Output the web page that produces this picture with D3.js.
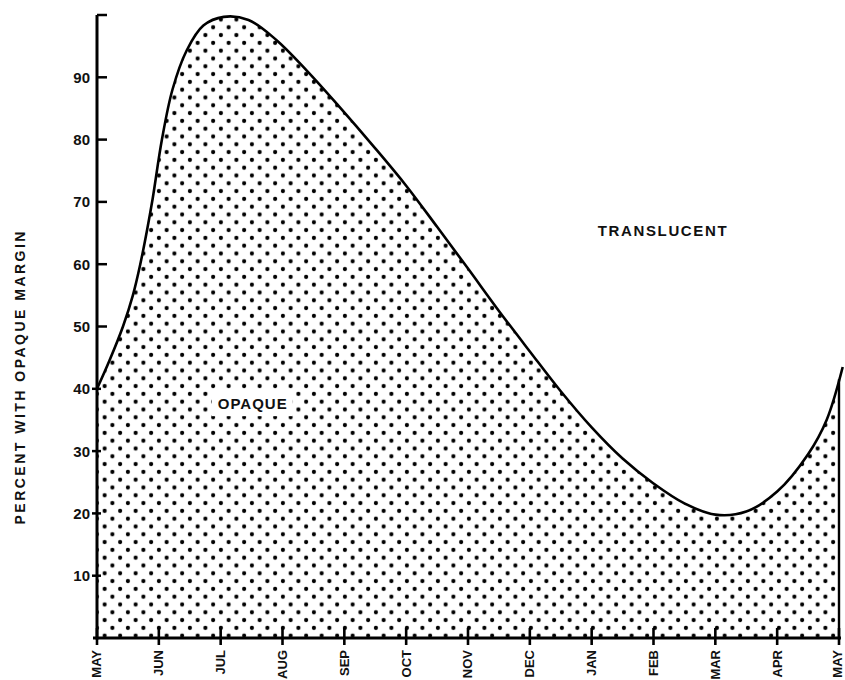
<!DOCTYPE html>
<html><head><meta charset="utf-8">
<script src="https://cdn.jsdelivr.net/npm/d3@7"></script>
<style>body{margin:0;background:#fff}svg{display:block}text{font-family:"Liberation Sans",Arial,sans-serif;font-weight:bold;fill:#111}</style>
</head><body>
<script>
const months = ["MAY","JUN","JUL","AUG","SEP","OCT","NOV","DEC","JAN","FEB","MAR","APR","MAY"];
const yTicks = [10,20,30,40,50,60,70,80,90];
// curve: position in months from May (0..12) and percent with opaque margin
const curveMonth = [0, 0.2, 0.42, 0.58, 0.7, 0.81, 0.9, 1.05, 1.22, 1.45, 1.72, 2.05, 2.45, 2.9, 3.4, 3.9, 4.5, 5.0, 5.5, 6.0, 6.5, 7.0, 7.5, 8.0, 8.5, 9.0, 9.5, 10.0, 10.5, 11.0, 11.5, 11.8, 12.06];
const curvePct   = [40, 44.5, 50, 55, 60, 65.5, 70.5, 80, 88, 94.3, 98.3, 99.7, 99.2, 96, 91, 85.5, 78.6, 72.6, 66, 59.3, 52.5, 46, 39.6, 33.8, 28.8, 24.8, 21.6, 19.8, 20.3, 23.5, 29.5, 35, 43.5];
const areaLabels = [{t:"OPAQUE", m:2.51, v:37.6, len:69}, {t:"TRANSLUCENT", m:9.14, v:65.4, len:129}];

const W=845,H=680;
const svg=d3.select("body").append("svg").attr("width",W).attr("height",H);
const x=d3.scaleLinear().domain([0,12]).range([97,839]);
const y=d3.scaleLinear().domain([0,100]).range([638,15]);

const pts=curveMonth.map((m,i)=>({m,v:curvePct[i]}));

const defs=svg.append("defs");
const pat=defs.append("pattern").attr("id","dots").attr("patternUnits","userSpaceOnUse")
  .attr("width",15.5).attr("height",15.6);
pat.append("circle").attr("cx",3.9).attr("cy",3.9).attr("r",2.1).attr("fill","#000");
pat.append("circle").attr("cx",11.65).attr("cy",11.7).attr("r",2.1).attr("fill","#000");
defs.append("clipPath").attr("id","clip").append("rect")
  .attr("x",x(0)).attr("y",0).attr("width",x(12)-x(0)).attr("height",y(0));

const curve=d3.curveCatmullRom.alpha(0.5);
const area=d3.area().x(d=>x(d.m)).y0(y(0)).y1(d=>y(d.v)).curve(curve);
const line=d3.line().x(d=>x(d.m)).y(d=>y(d.v)).curve(curve);

svg.append("path").datum(pts).attr("d",area).attr("fill","url(#dots)").attr("clip-path","url(#clip)");

// area labels
areaLabels.forEach(l=>{
  const t=svg.append("text").attr("x",x(l.m)).attr("y",y(l.v)).attr("text-anchor","middle")
    .attr("dy","0.36em").style("font-size","15px").attr("textLength",l.len).attr("lengthAdjust","spacing").text(l.t);
  if(l.t==="OPAQUE"){
    const b=t.node().getBBox();
    svg.insert("rect","text").attr("x",b.x-6).attr("y",b.y-5).attr("width",b.width+12).attr("height",b.height+9).attr("fill","#fff");
  }
});

svg.append("path").datum(pts).attr("d",line).attr("fill","none").attr("stroke","#000").attr("stroke-width",2.6);

// right edge line at final May, up to the curve
const i1=curveMonth.findIndex(m=>m>=12);
const vEnd=curvePct[i1-1]+(curvePct[i1]-curvePct[i1-1])*(12-curveMonth[i1-1])/(curveMonth[i1]-curveMonth[i1-1]);
svg.append("line").attr("x1",x(12)).attr("x2",x(12)).attr("y1",y(0)).attr("y2",y(vEnd)).attr("stroke","#000").attr("stroke-width",2.4);

// y axis
svg.append("line").attr("x1",x(0)).attr("x2",x(0)).attr("y1",y(100)).attr("y2",y(0)+1.5).attr("stroke","#000").attr("stroke-width",3);
svg.append("line").attr("x1",x(0)).attr("x2",x(0)+10).attr("y1",y(100)).attr("y2",y(100)).attr("stroke","#000").attr("stroke-width",2.5);
yTicks.forEach(v=>{
  const x1 = v>=50 ? x(0) : x(0)-5;
  const x2 = v>=50 ? x(0)+10 : x(0)+4;
  svg.append("line").attr("x1",x1).attr("x2",x2).attr("y1",y(v)).attr("y2",y(v)).attr("stroke","#000").attr("stroke-width",2.5);
  svg.append("text").attr("x",x(0)-7).attr("y",y(v)).attr("dy","0.36em").attr("text-anchor","end")
    .style("font-size","15px").text(v);
});

// x axis
svg.append("line").attr("x1",x(0)-4).attr("x2",x(12)+2).attr("y1",y(0)).attr("y2",y(0)).attr("stroke","#000").attr("stroke-width",3);
months.forEach((mo,i)=>{
  svg.append("line").attr("x1",x(i)).attr("x2",x(i)).attr("y1",y(0)-10).attr("y2",y(0)+7).attr("stroke","#000").attr("stroke-width",2.6);
  const lx = i===months.length-1 ? x(i)-1.5 : x(i);
  svg.append("text").attr("transform",`translate(${lx},${y(0)+12}) rotate(-90)`)
    .attr("text-anchor","end").attr("dy","0.34em").style("font-size","13px").text(mo);
});

// y axis title
svg.append("text").attr("transform",`translate(20,378) rotate(-90)`).attr("text-anchor","middle")
  .attr("dy","0.36em").style("font-size","14px").attr("textLength",293).attr("lengthAdjust","spacing")
  .text("PERCENT  WITH   OPAQUE  MARGIN");
</script>
</body></html>
